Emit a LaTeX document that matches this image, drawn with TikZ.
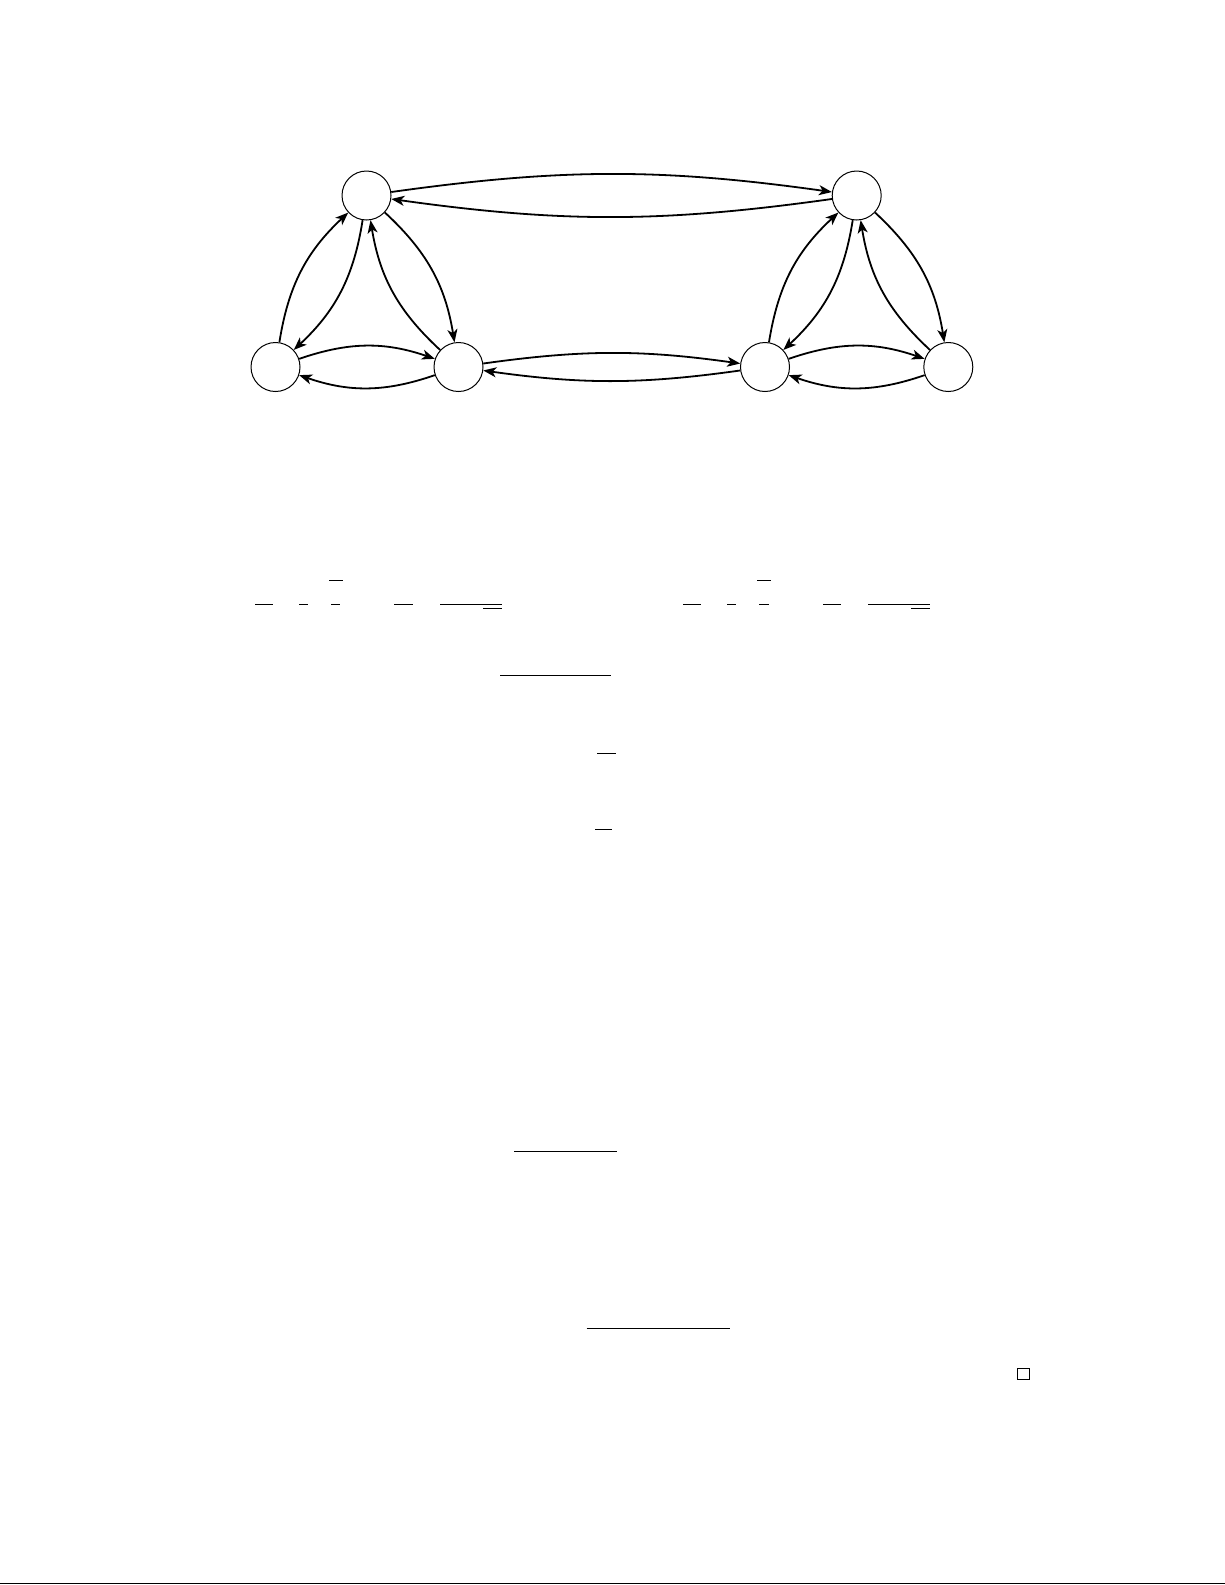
\documentclass[tikz,border=0pt]{standalone}
\usetikzlibrary{arrows.meta}
\begin{document}
\begin{tikzpicture}[x=0.5pt,y=-0.5pt,
  vertex/.style={circle,draw,line width=0.5pt,minimum size=24.5pt,inner sep=0pt},
  edge/.style={line width=0.9pt,-{Stealth[length=6.5pt,width=5pt,inset=1.8pt]}},
  tri/.style={edge,bend left=19},
  hor/.style={edge,bend left=8},
  bar/.style={line width=0.45pt}]
\useasboundingbox (0,0) rectangle (1225,1585);
% vertices
\node[vertex] (A) at (366.5,195.5) {};
\node[vertex] (B) at (275.5,367) {};
\node[vertex] (C) at (458.5,367) {};
\node[vertex] (D) at (856.7,195.5) {};
\node[vertex] (E) at (765,367) {};
\node[vertex] (F) at (948.3,367) {};
% left triangle
\draw[tri] (B) to (A);
\draw[tri] (A) to (B);
\draw[tri] (A) to (C);
\draw[tri] (C) to (A);
\draw[tri] (B) to (C);
\draw[tri] (C) to (B);
% right triangle
\draw[tri] (E) to (D);
\draw[tri] (D) to (E);
\draw[tri] (D) to (F);
\draw[tri] (F) to (D);
\draw[tri] (E) to (F);
\draw[tri] (F) to (E);
% connections
\draw[hor] (A) to (D);
\draw[hor] (D) to (A);
\draw[hor] (C) to (E);
\draw[hor] (E) to (C);
% fraction rules
\draw[bar] (255,604) -- (272.7,604);
\draw[bar] (299.3,604) -- (307.7,604);
\draw[bar] (329.3,580.3) -- (342.7,580.3);
\draw[bar] (331,604) -- (340,604);
\draw[bar] (394,604) -- (412.7,604);
\draw[bar] (440,604) -- (501.7,604);
\draw[bar] (483.3,608.3) -- (501.7,608.3);
\draw[bar] (683.3,604) -- (700.7,604);
\draw[bar] (727.3,604) -- (736,604);
\draw[bar] (757,580.3) -- (771,580.3);
\draw[bar] (759,604) -- (769,604);
\draw[bar] (823.3,604) -- (840.7,604);
\draw[bar] (868,604) -- (929.7,604);
\draw[bar] (911.3,608.3) -- (929.7,608.3);
\draw[bar] (500,675) -- (611,675);
\draw[bar] (597,753.3) -- (615.7,753.3);
\draw[bar] (595,829.3) -- (611.7,829.3);
\draw[bar] (514,1151.7) -- (617,1151.7);
\draw[bar] (586.7,1328.3) -- (730,1328.3);
% end-of-proof box
\draw[line width=0.45pt] (1017.5,1368.5) rectangle (1029,1379.5);
% bottom rule
\draw[line width=0.9pt] (0,1583.5) -- (1225,1583.5);
\end{tikzpicture}
\end{document}
